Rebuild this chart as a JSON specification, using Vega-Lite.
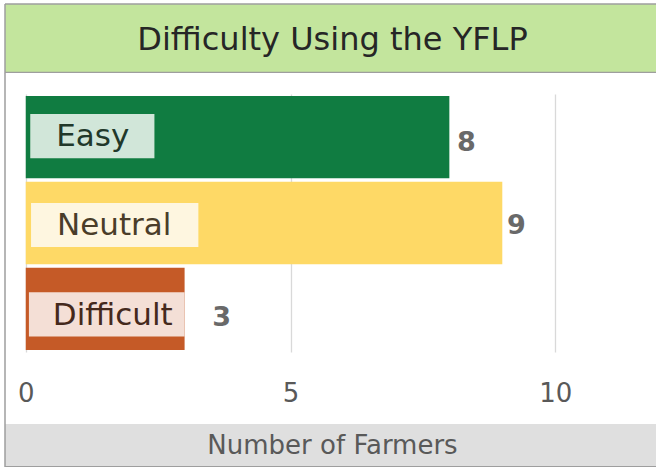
{
  "$schema": "https://vega.github.io/schema/vega-lite/v6.json",
  "padding": {"left": 4, "top": 3, "right": 0, "bottom": 0},
  "autosize": {"type": "pad"},
  "background": "white",
  "spacing": 0,
  "bounds": "flush",
  "config": {"font": "DejaVu Sans"},
  "datasets": {
    "farmers": [
      {"Difficulty": "Easy", "Farmers": 8},
      {"Difficulty": "Neutral", "Farmers": 9},
      {"Difficulty": "Difficult", "Farmers": 3}
    ]
  },
  "vconcat": [
    {
      "width": 651,
      "height": 68.5,
      "view": {"fill": "#c3e59d", "stroke": "#9e9e9e", "strokeWidth": 1.5, "strokeDash": [651, 68.5, 719.5, 0]},
      "data": {"values": [{"title": "Difficulty Using the YFLP"}]},
      "mark": {"type": "text", "fontSize": 32, "color": "#262626", "baseline": "middle", "align": "center", "dx": 2, "dy": 2},
      "encoding": {"text": {"field": "title"}}
    },
    {
      "width": 651,
      "height": 351,
      "view": {"fill": "white", "stroke": "#9e9e9e", "strokeWidth": 1.5, "strokeDash": [0, 1653, 351, 0]},
      "data": {"name": "farmers"},
      "encoding": {
        "y": {
          "field": "Difficulty",
          "type": "nominal",
          "sort": ["Easy", "Neutral", "Difficult"],
          "scale": {"range": [21, 279], "paddingInner": 0.04, "paddingOuter": 0.022},
          "axis": null
        }
      },
      "layer": [
        {
          "mark": {"type": "bar"},
          "encoding": {
            "x": {
              "field": "Farmers",
              "type": "quantitative",
              "scale": {"domain": [0, 10], "range": [20.75, 550.25], "nice": false},
              "axis": {
                "orient": "top",
                "offset": -330,
                "values": [0, 5, 10],
                "format": "d",
                "grid": true,
                "gridColor": "#d9d9d9",
                "gridWidth": 1.3,
                "domain": false,
                "ticks": false,
                "tickSize": 0,
                "labelPadding": 9.25,
                "labelBaseline": "middle",
                "labelFontSize": 26,
                "labelColor": "#595959",
                "labelFlush": false,
                "title": null
              }
            },
            "color": {
              "field": "Difficulty",
              "type": "nominal",
              "scale": {"domain": ["Easy", "Neutral", "Difficult"], "range": ["#107c41", "#fed966", "#c55a27"]},
              "legend": null
            }
          }
        },
        {
          "transform": [{"filter": "datum.Difficulty === 'Easy'"}],
          "layer": [
            {
              "mark": {"type": "bar", "color": "#d1e6d9", "height": {"band": 0.535}, "yOffset": -1},
              "encoding": {"x": {"datum": 0.085}, "x2": {"datum": 2.43}}
            },
            {
              "mark": {"type": "text", "fontSize": 31, "color": "#21382a", "baseline": "middle", "align": "center"},
              "encoding": {"x": {"datum": 1.265}, "text": {"field": "Difficulty"}}
            },
            {
              "mark": {"type": "text", "fontSize": 27, "fontWeight": "bold", "color": "#696969", "baseline": "middle", "align": "center", "dx": 17, "dy": 5.6},
              "encoding": {"x": {"field": "Farmers", "type": "quantitative"}, "text": {"field": "Farmers"}}
            }
          ]
        },
        {
          "transform": [{"filter": "datum.Difficulty === 'Neutral'"}],
          "layer": [
            {
              "mark": {"type": "bar", "color": "#fef6e0", "height": {"band": 0.535}, "yOffset": 2},
              "encoding": {"x": {"datum": 0.1}, "x2": {"datum": 3.26}}
            },
            {
              "mark": {"type": "text", "fontSize": 31, "color": "#4a3d29", "baseline": "middle", "align": "center", "dy": 3},
              "encoding": {"x": {"datum": 1.671}, "text": {"field": "Difficulty"}}
            },
            {
              "mark": {"type": "text", "fontSize": 27, "fontWeight": "bold", "color": "#696969", "baseline": "middle", "align": "center", "dx": 14, "dy": 3},
              "encoding": {"x": {"field": "Farmers", "type": "quantitative"}, "text": {"field": "Farmers"}}
            }
          ]
        },
        {
          "transform": [{"filter": "datum.Difficulty === 'Difficult'"}],
          "layer": [
            {
              "mark": {"type": "bar", "color": "#f4dfd6", "height": {"band": 0.535}, "yOffset": 5.5},
              "encoding": {"x": {"datum": 0.06}, "x2": {"datum": 3}}
            },
            {
              "mark": {"type": "text", "fontSize": 31, "color": "#45291c", "baseline": "middle", "align": "center", "dy": 7.5},
              "encoding": {"x": {"datum": 1.643}, "text": {"field": "Difficulty"}}
            },
            {
              "mark": {"type": "text", "fontSize": 27, "fontWeight": "bold", "color": "#696969", "baseline": "middle", "align": "center", "dx": 37, "dy": 9},
              "encoding": {"x": {"field": "Farmers", "type": "quantitative"}, "text": {"field": "Farmers"}}
            }
          ]
        }
      ]
    },
    {
      "width": 651,
      "height": 42.75,
      "view": {"fill": "#dfdfdf", "stroke": "#9e9e9e", "strokeWidth": 1.5, "strokeDash": [0, 693.75, 693.75, 0]},
      "data": {"values": [{"axisTitle": "Number of Farmers"}]},
      "mark": {"type": "text", "fontSize": 26, "color": "#595959", "baseline": "middle", "align": "center", "dx": 2, "dy": 1},
      "encoding": {"text": {"field": "axisTitle"}}
    }
  ]
}
